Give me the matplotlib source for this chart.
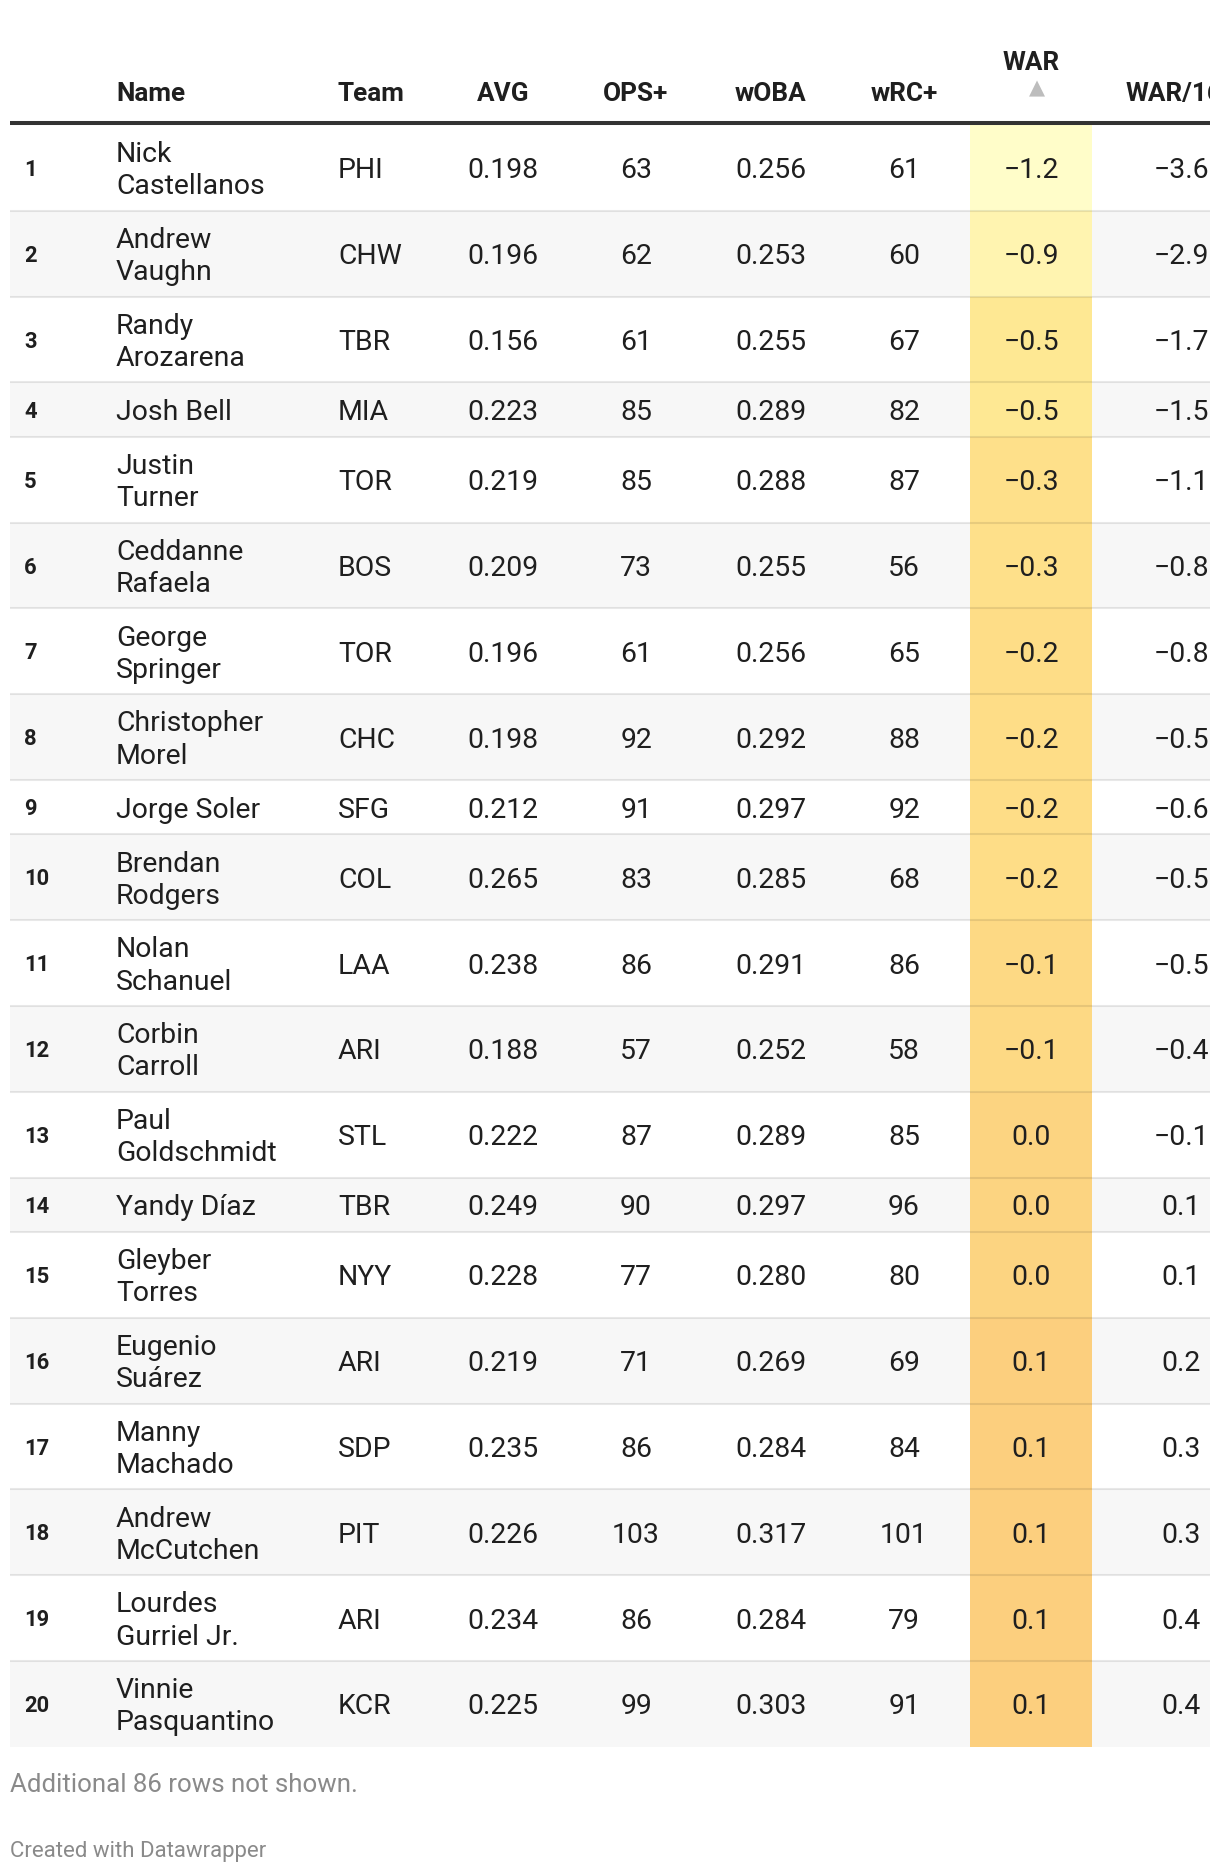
import matplotlib
matplotlib.use("Agg")
import matplotlib.pyplot as plt
from matplotlib.patches import Rectangle
from matplotlib.colors import LinearSegmentedColormap, Normalize

FONT = ["Roboto", "DejaVu Sans"]
plt.rcParams["font.family"] = FONT

W, H = 1220, 1874

# ---- data ----
ranks = list(range(1, 21))
names = ["Nick\nCastellanos", "Andrew\nVaughn", "Randy\nArozarena", "Josh Bell",
         "Justin\nTurner", "Ceddanne\nRafaela", "George\nSpringer", "Christopher\nMorel",
         "Jorge Soler", "Brendan\nRodgers", "Nolan\nSchanuel", "Corbin\nCarroll",
         "Paul\nGoldschmidt", "Yandy Díaz", "Gleyber\nTorres", "Eugenio\nSuárez",
         "Manny\nMachado", "Andrew\nMcCutchen", "Lourdes\nGurriel Jr.", "Vinnie\nPasquantino"]
teams = ["PHI", "CHW", "TBR", "MIA", "TOR", "BOS", "TOR", "CHC", "SFG", "COL",
         "LAA", "ARI", "STL", "TBR", "NYY", "ARI", "SDP", "PIT", "ARI", "KCR"]
avg = [0.198, 0.196, 0.156, 0.223, 0.219, 0.209, 0.196, 0.198, 0.212, 0.265,
       0.238, 0.188, 0.222, 0.249, 0.228, 0.219, 0.235, 0.226, 0.234, 0.225]
ops_plus = [63, 62, 61, 85, 85, 73, 61, 92, 91, 83, 86, 57, 87, 90, 77, 71, 86, 103, 86, 99]
woba = [0.256, 0.253, 0.255, 0.289, 0.288, 0.255, 0.256, 0.292, 0.297, 0.285,
        0.291, 0.252, 0.289, 0.297, 0.280, 0.269, 0.284, 0.317, 0.284, 0.303]
wrc_plus = [61, 60, 67, 82, 87, 56, 65, 88, 92, 68, 86, 58, 85, 96, 80, 69, 84, 101, 79, 91]
war = [-1.2, -0.9, -0.5, -0.5, -0.3, -0.3, -0.2, -0.2, -0.2, -0.2,
       -0.1, -0.1, 0.0, 0.0, 0.0, 0.1, 0.1, 0.1, 0.1, 0.1]
war_162 = [-3.6, -2.9, -1.7, -1.5, -1.1, -0.8, -0.8, -0.5, -0.6, -0.5,
           -0.5, -0.4, -0.1, 0.1, 0.1, 0.2, 0.3, 0.3, 0.4, 0.4]
headers = ["", "Name", "Team", "AVG", "OPS+", "wOBA", "wRC+", "WAR", "WAR/162"]
note = "Additional 86 rows not shown."
credit = "Created with Datawrapper"

# colour scale for the WAR column
war_stops = [(0.0, "#fffdc9"), (0.23, "#fff4b0"), (0.54, "#fee893"),
             (0.69, "#fee08a"), (0.85, "#fdd984"), (1.0, "#fccf7e")]
cmap = LinearSegmentedColormap.from_list("war", war_stops)
norm = Normalize(vmin=min(war), vmax=max(war))


def num(v, d):
    s = f"{abs(v):.{d}f}"
    return ("\u2212" + s) if v < 0 and float(s) != 0 else s


cols = [
    ([str(r) for r in ranks], 24, "left"),
    (names, 116, "left"),
    (teams, 338, "left"),
    ([f"{v:.3f}" for v in avg], 503, "center"),
    ([str(v) for v in ops_plus], 636, "center"),
    ([f"{v:.3f}" for v in woba], 771, "center"),
    ([str(v) for v in wrc_plus], 904, "center"),
    ([num(v, 1) for v in war], 1031, "center"),
    ([num(v, 1) for v in war_162], 1181, "center"),
]

fig = plt.figure(figsize=(W / 100, H / 100), dpi=100, facecolor="white")
ax = fig.add_axes([10 / W, 0, 1200 / W, 1])
ax.set_xlim(10, 1210)
ax.set_ylim(H, 0)
ax.axis("off")

TXT = "#1f1f1f"
BODY, HEAD, RANK = 20.4, 18.8, 15.8
CAP = 0.711 * 19.2 / 0.72
RCAP = 0.711 * 14.5 / 0.72
PITCH = 32.2
WAR_L, WAR_R = 970, 1092

# header
for (vals, x, ha), h in zip(cols, headers):
    yb = 70 if h == "WAR" else 100.7
    ax.text(x, yb, h, ha=ha, va="baseline", fontsize=HEAD, fontweight="bold",
            color=TXT, clip_on=True)
ax.text(1037, 88, "\u25b2", ha="center", va="center", fontsize=15,
        family="DejaVu Sans", color="#bdbdbd")
ax.plot([10, 1210], [124, 124], color="#333333", lw=2.9, solid_capstyle="butt", zorder=4)

# rows
y = 126
for i in range(len(ranks)):
    nl = names[i].count("\n") + 1
    h = 54.4 + (nl - 1) * 31.4
    c = y + h / 2
    if i % 2 == 1:
        ax.add_patch(Rectangle((10, y), 1200, h, color="#f7f7f7", lw=0, zorder=0))
    ax.add_patch(Rectangle((WAR_L, y), WAR_R - WAR_L, h, color=cmap(norm(war[i])),
                           lw=0, zorder=1))
    if i < len(ranks) - 1:
        ax.plot([10, 1210], [y + h, y + h], color="black", alpha=0.09, lw=1.5,
                solid_capstyle="butt", zorder=2)
    for k, (vals, x, ha) in enumerate(cols):
        if k == 0:
            ax.text(x, c + RCAP / 2, vals[i], ha=ha, va="baseline", fontsize=RANK,
                    fontweight="bold", color=TXT, zorder=3, clip_on=True)
            continue
        lines = vals[i].split("\n")
        for j, line in enumerate(lines):
            yb = c + CAP / 2 + (j - (len(lines) - 1) / 2) * PITCH
            ax.text(x, yb, line, ha=ha, va="baseline", fontsize=BODY,
                    color=TXT, zorder=3, clip_on=True)
    y += h

# footer
ax.text(10, 1792, note, ha="left", va="baseline", fontsize=18.6, color="#8a8a8a")
ax.text(10, 1857, credit, ha="left", va="baseline", fontsize=16, color="#8a8a8a")

fig.savefig("out.png", dpi=100, facecolor="white")
